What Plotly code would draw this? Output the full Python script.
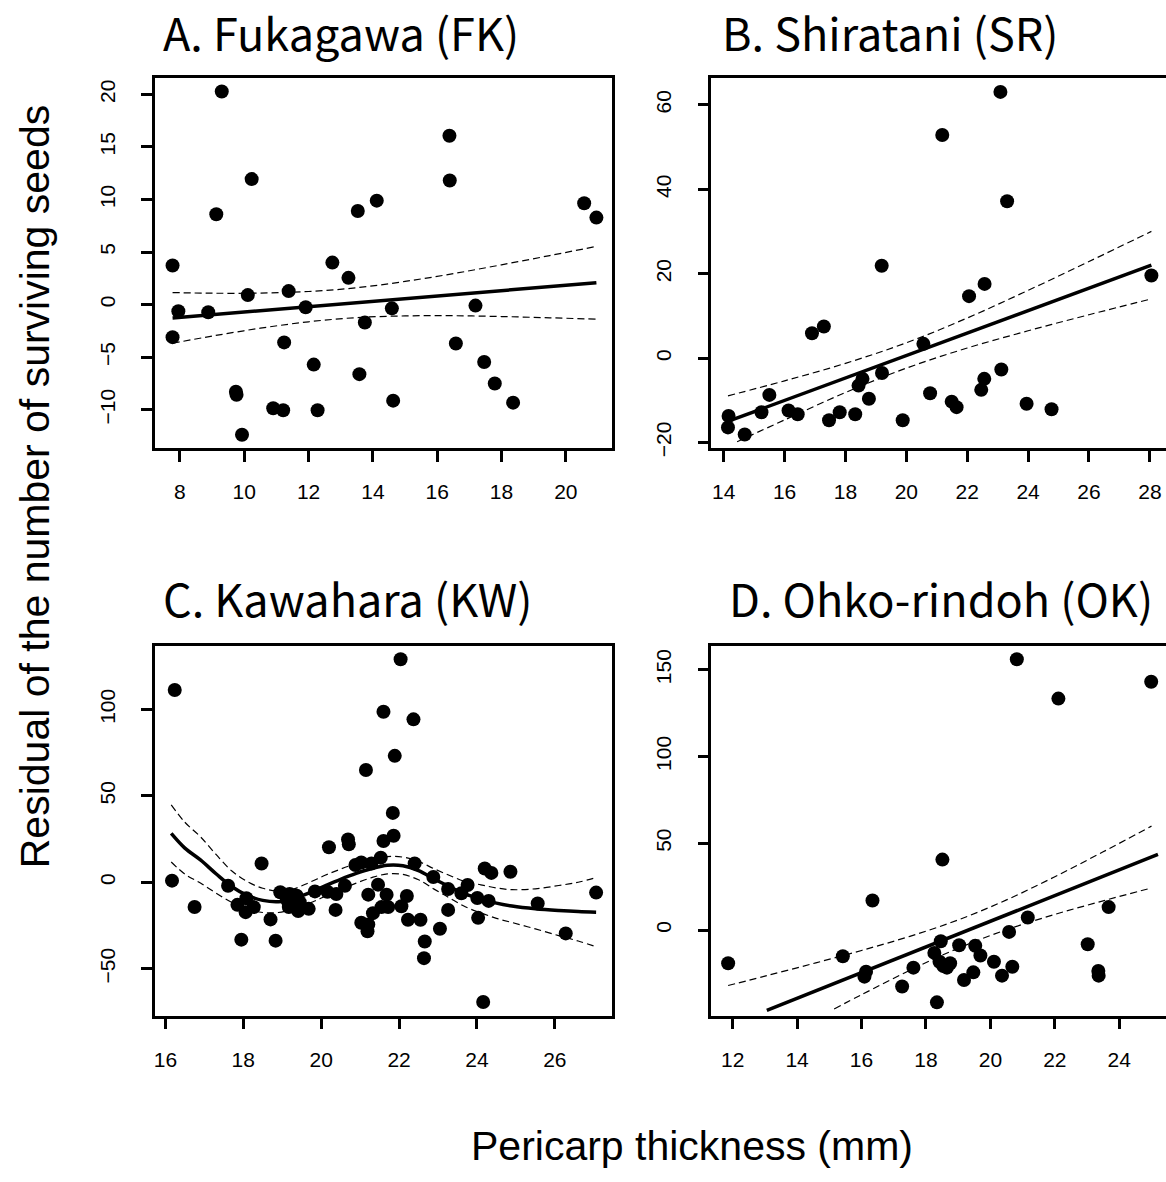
import plotly.graph_objects as go

# A. Fukagawa (FK)
fk_x = [7.77, 7.95, 7.77, 8.88, 9.13, 9.30, 9.74, 9.76, 9.93, 10.11, 10.23, 10.90, 11.21, 11.24,
        11.38, 11.91, 12.16, 12.28, 12.74, 13.24, 13.53, 13.58, 13.75, 14.12, 14.59, 14.63, 16.38,
        16.39, 16.58, 17.19, 17.46, 17.79, 18.36, 20.57, 20.95]
fk_y = [3.72, -0.63, -3.09, -0.72, 8.6, 20.28, -8.28, -8.57, -12.38, 0.91, 11.94, -9.86, -10.05, -3.59,
        1.29, -0.25, -5.70, -10.05, 4.0, 2.55, 8.91, -6.61, -1.70, 9.89, -0.35, -9.13, 16.06,
        11.81, -3.69, -0.09, -5.45, -7.50, -9.32, 9.64, 8.28]
fk_fit_x = [7.77, 9, 10.5, 12, 13.5, 15, 16.5, 18, 19.5, 20.95]
fk_fit = [-1.26, -0.95, -0.57, -0.19, 0.19, 0.57, 0.95, 1.33, 1.71, 2.08]
fk_band_x = fk_fit_x
fk_upper = [1.15, 1.09, 1.10, 1.25, 1.61, 2.21, 2.95, 3.79, 4.67, 5.54]
fk_lower_x = fk_fit_x
fk_lower = [-3.67, -2.99, -2.24, -1.63, -1.23, -1.07, -1.05, -1.13, -1.25, -1.38]

# B. Shiratani (SR)
sr_x = [14.16, 14.14, 14.69, 15.24, 15.50, 16.13, 16.43, 16.90, 17.29, 17.46, 17.81, 18.32, 18.43,
        18.56, 18.77, 19.19, 19.20, 19.88, 20.56, 20.78, 21.18, 21.49, 21.65, 22.06, 22.46, 22.56,
        22.57, 23.09, 23.12, 23.31, 23.95, 24.77, 28.05]
sr_y = [-13.7, -16.4, -18.1, -12.8, -8.7, -12.4, -13.3, 5.9, 7.5, -14.7, -12.8, -13.3, -6.5,
        -4.9, -9.6, 21.9, -3.5, -14.7, 3.4, -8.3, 52.9, -10.3, -11.6, 14.7, -7.5, -4.9,
        17.6, 63.1, -2.7, 37.2, -10.8, -12.1, 19.6]
sr_fit_x = [14.2, 16, 18, 20, 22, 24, 26, 28.05]
sr_fit = [-14.8, -10.0, -4.68, 0.64, 5.96, 11.28, 16.6, 22.05]
sr_band_x = [14.14, 16, 18, 20, 22, 24, 26, 28.05]
sr_upper = [-8.93, -5.37, -1.22, 3.64, 9.52, 16.07, 22.9, 30.04]
sr_lower_x = [14.44, 16, 18, 20, 22, 24, 26, 28.05]
sr_lower = [-19.8, -14.63, -8.14, -2.36, 2.40, 6.49, 10.3, 14.06]

# C. Kawahara (KW)
kw_x = [16.24, 16.17, 16.75, 17.61, 18.47, 17.95, 18.83, 18.70, 17.85, 18.08, 18.06, 18.27, 18.95,
        19.19, 19.37, 19.17, 19.41, 19.68, 19.45, 19.84, 19.12, 20.16, 20.39, 20.37, 20.61, 20.20,
        20.69, 20.71, 20.88, 21.03, 21.29, 21.53, 21.21, 21.46, 21.68, 21.55, 21.33, 21.03, 21.21,
        21.19, 21.72, 21.60, 21.86, 21.84, 21.15, 21.60, 21.89, 22.04, 22.37, 22.40, 22.06, 22.20,
        22.23, 22.55, 22.66, 22.64, 22.88, 23.05, 23.26, 23.26, 23.60, 23.76, 24.01, 24.03, 24.20,
        24.37, 24.30, 24.86, 25.56, 26.28, 27.06, 24.16]
kw_y = [111.3, 1.0, -14.2, -1.9, 10.9, -33.1, -33.7, -21.4, -13.0, -9.2, -17.2, -14.3, -5.7,
        -6.7, -7.7, -14.3, -16.6, -15.3, -11.5, -5.2, -10.0, -5.4, -6.7, -15.9, -1.9, 20.3,
        24.8, 22.0, 10.1, 11.5, 10.9, 14.3, -7.1, -1.3, -7.1, -14.3, -17.8, -23.3, -24.3,
        -28.3, -14.3, 23.9, 27.0, 40.2, 65.0, 98.7, 73.2, 129.1, 94.3, 11.0, -13.8, -7.9,
        -21.6, -21.6, -34.2, -43.8, 3.1, -26.8, -15.9, -3.8, -6.3, -1.5, -9.0, -20.5, 8.0,
        5.5, -10.7, 6.2, -12.2, -29.5, -5.9, -69.2]
kw_fit_x = [16.15, 16.5, 16.9, 17.3, 17.7, 18.1, 18.5, 18.9, 19.3, 19.7, 20.1, 20.5, 20.9, 21.3,
            21.7, 22.1, 22.5, 22.9, 23.3, 23.7, 24.1, 24.5, 24.9, 25.5, 26.1, 26.6, 27.06]
kw_fit = [28.3, 19.8, 13.0, 5.0, -2.4, -7.5, -10.4, -11.2, -9.5, -6.0, -2.0, 1.8, 5.2, 8.0,
          9.9, 9.6, 6.8, 2.0, -2.5, -6.8, -9.5, -12.0, -13.7, -15.3, -16.3, -16.9, -17.2]
kw_band_x = kw_fit_x
kw_upper = [44.8, 34.8, 26.4, 16.2, 6.7, 0.5, -3.4, -5.0, -3.7, 0.0, 4.1, 7.7, 10.8, 13.2,
            14.9, 14.6, 12.1, 7.9, 4.0, 0.5, -1.4, -3.2, -4.2, -3.7, -1.8, 0.1, 2.8]
kw_lower_x = kw_fit_x
kw_lower = [11.8, 4.8, -0.4, -6.2, -11.5, -15.5, -17.4, -17.4, -15.3, -12.0, -8.1, -4.1, -0.4, 2.8,
            4.9, 4.6, 1.5, -3.9, -9.0, -14.1, -17.6, -20.8, -23.2, -26.9, -30.8, -33.9, -37.2]

# D. Ohko-rindoh (OK)
ok_x = [11.86, 15.42, 16.14, 16.09, 16.34, 17.26, 17.61, 18.34, 18.26, 18.46, 18.51, 18.42, 18.54,
        18.65, 18.75, 19.03, 19.18, 19.47, 19.53, 19.69, 20.11, 20.36, 20.58, 20.68, 20.82, 21.16,
        22.11, 23.02, 23.35, 23.36, 23.67, 24.99]
ok_y = [-19.2, -15.1, -24.0, -26.9, 17.0, -32.6, -21.7, -41.7, -13.2, -6.5, 40.6, -18.3, -20.8,
        -21.7, -19.2, -8.8, -28.8, -24.4, -9.1, -14.7, -18.3, -26.3, -1.1, -21.2, 156.1, 7.2,
        133.4, -8.2, -23.6, -26.3, 13.2, 143.1]
ok_fit_x = [13.06, 14.5, 16, 17.5, 19, 20.5, 22, 23.5, 25.2]
ok_fit = [-46.3, -35.64, -24.54, -13.44, -2.34, 8.76, 19.86, 30.96, 43.54]
ok_band_x = [11.86, 13, 14.5, 16, 17.5, 19, 20.5, 22, 23.5, 25.0]
ok_upper = [-32.0, -26.59, -19.33, -11.79, -3.63, 5.82, 17.36, 30.74, 45.08, 59.88]
ok_lower_x = [15.15, 16, 17.5, 19, 20.5, 22, 23.5, 25.0]
ok_lower = [-45.5, -37.29, -23.25, -10.5, 0.16, 8.98, 16.84, 24.24]

titles = ["A. Fukagawa (FK)", "B. Shiratani (SR)", "C. Kawahara (KW)", "D. Ohko-rindoh (OK)"]

W, H = 1166, 1182


def fx(p):
    return p / W


def fy(p):
    return 1 - p / H


panels = [
    (fk_x, fk_y, fk_fit_x, fk_fit, fk_band_x, fk_upper, fk_lower_x, fk_lower, "linear"),
    (sr_x, sr_y, sr_fit_x, sr_fit, sr_band_x, sr_upper, sr_lower_x, sr_lower, "linear"),
    (kw_x, kw_y, kw_fit_x, kw_fit, kw_band_x, kw_upper, kw_lower_x, kw_lower, "spline"),
    (ok_x, ok_y, ok_fit_x, ok_fit, ok_band_x, ok_upper, ok_lower_x, ok_lower, "linear"),
]

fig = go.Figure()
for i, (px_, py_, fit_x, fit_y, up_x, up_y, lo_x, lo_y, shape) in enumerate(panels):
    xa = "x" if i == 0 else "x%d" % (i + 1)
    ya = "y" if i == 0 else "y%d" % (i + 1)
    fig.add_trace(go.Scatter(x=px_, y=py_, mode="markers", xaxis=xa, yaxis=ya,
                             marker=dict(color="black", size=14), showlegend=False))
    fig.add_trace(go.Scatter(x=fit_x, y=fit_y, mode="lines", xaxis=xa, yaxis=ya,
                             line=dict(color="black", width=3.5, shape=shape), showlegend=False))
    for bx, by in ((up_x, up_y), (lo_x, lo_y)):
        fig.add_trace(go.Scatter(x=bx, y=by, mode="lines", xaxis=xa, yaxis=ya,
                                 line=dict(color="black", width=1.2, dash="7px,4px", shape="spline"),
                                 showlegend=False))

tickfont = dict(family="Liberation Sans, Arial, sans-serif", size=21, color="black")


def xaxis(domain, rng, vals, anchor):
    return dict(domain=domain, range=rng, anchor=anchor, tickvals=vals,
                ticktext=[str(v) for v in vals], showline=True, linecolor="black",
                linewidth=2.5, mirror=True, ticks="outside", ticklen=11, tickwidth=2.5,
                tickcolor="black", showgrid=False, zeroline=False, tickfont=tickfont,
                ticklabelstandoff=12, ticklabeloverflow="allow")


def yaxis(domain, rng, vals, anchor, mirror=True):
    return dict(domain=domain, range=rng, anchor=anchor, tickvals=vals,
                ticktext=[str(v).replace("-", "\u2212") for v in vals], showline=True,
                linecolor="black", linewidth=2.5, mirror=mirror, ticks="outside", ticklen=11,
                tickwidth=2.5, tickcolor="black", showgrid=False, zeroline=False,
                tickfont=tickfont, tickangle=-90, ticklabelstandoff=18)


xl = [fx(154), fx(612)]
xr = [fx(711), 1.0]
yt = [fy(451.5), fy(79)]
yb = [fy(1023.5), fy(651)]

fig.update_layout(
    width=W, height=H, margin=dict(l=0, r=0, t=0, b=0),
    paper_bgcolor="white", plot_bgcolor="white",
    xaxis=xaxis(xl, [7.22, 21.45], [8, 10, 12, 14, 16, 18, 20], "y"),
    yaxis=yaxis(yt, [-13.64, 21.52], [-10, -5, 0, 5, 10, 15, 20], "x"),
    xaxis2=xaxis(xr, [13.595, 28.53], [14, 16, 18, 20, 22, 24, 26, 28], "y2"),
    yaxis2=yaxis(yt, [-21.3, 66.3], [-20, 0, 20, 40, 60], "x2", mirror=False),
    xaxis3=xaxis(xl, [15.73, 27.48], [16, 18, 20, 22, 24, 26], "y3"),
    yaxis3=yaxis(yb, [-77.1, 136.7], [-50, 0, 50, 100], "x3"),
    xaxis4=xaxis(xr, [11.34, 25.45], [12, 14, 16, 18, 20, 22, 24], "y4"),
    yaxis4=yaxis(yb, [-49.4, 163.7], [0, 50, 100, 150], "x4", mirror=False),
)

title_font = dict(family="Noto Sans CJK JP, sans-serif", size=45, color="black")
title_pos = [(160, None), (720, None), (160, 602), (727, 602)]
for t, (tx, ty) in zip(titles, title_pos):
    if ty is None:
        fig.add_annotation(text=t, xref="paper", yref="paper", x=fx(tx), y=1.0, yshift=3,
                           xanchor="left", yanchor="top", showarrow=False, font=title_font)
    else:
        fig.add_annotation(text=t, xref="paper", yref="paper", x=fx(tx), y=fy(ty),
                           xanchor="left", yanchor="middle", showarrow=False, font=title_font)

label_font = dict(family="Liberation Sans, Arial, sans-serif", size=41, color="black")
fig.add_annotation(text="Pericarp thickness (mm)", xref="paper", yref="paper",
                   x=fx(692), y=fy(1155), xanchor="center", yanchor="middle",
                   showarrow=False, font=label_font)
fig.add_annotation(text="Residual of the number of surviving seeds", xref="paper", yref="paper",
                   x=fx(34), y=fy(490), xanchor="center", yanchor="middle", textangle=-90,
                   showarrow=False, font=label_font)

fig.write_html("out.html", config={"displayModeBar": False},
               post_script="document.body.style.margin = '0px';")
